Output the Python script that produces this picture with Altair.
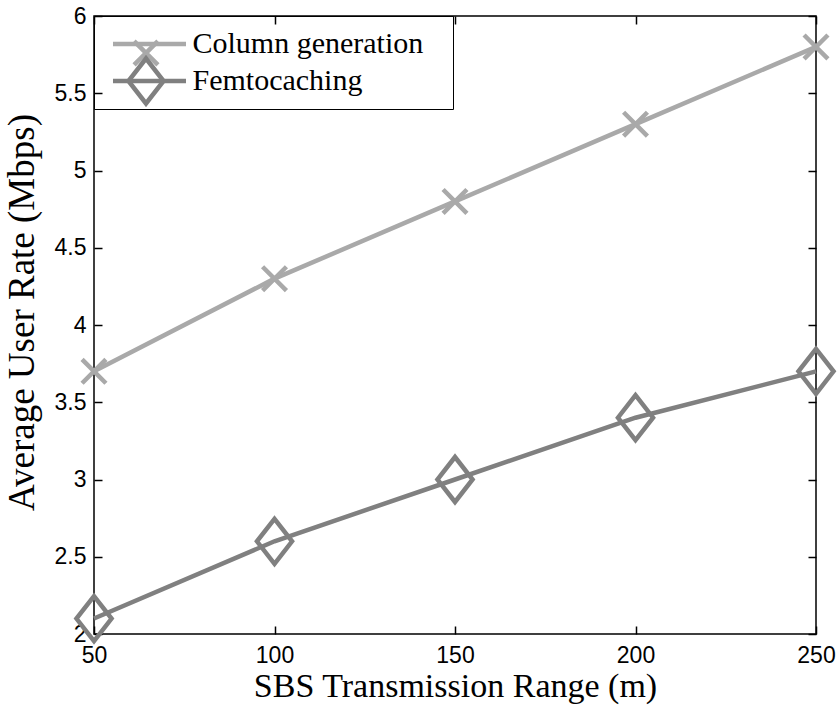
import altair as alt
import pandas as pd

# ---- data ----
x_range = [50, 100, 150, 200, 250]
column_generation = [3.7, 4.3, 4.8, 5.3, 5.8]
femtocaching = [2.1, 2.6, 3.0, 3.4, 3.7]
series_names = ["Column generation", "Femtocaching"]
marker_keys = ["x-mark", "diamond"]
x_ticks = [50, 100, 150, 200, 250]
y_ticks = [2, 2.5, 3, 3.5, 4, 4.5, 5, 5.5, 6]
series_colors = ["#a9a9a9", "#808080"]
marker_paths = [
    "M-0.53,-0.53L0.53,0.53M-0.53,0.53L0.53,-0.53",   # x-mark
    "M0,-1L0.78,0L0,1L-0.78,0Z",                       # diamond
]

rows = []
for name, key, vals in zip(series_names, marker_keys, [column_generation, femtocaching]):
    for xv, yv in zip(x_range, vals):
        rows.append({"range": xv, "rate": yv, "series": name, "marker": key})
df = pd.DataFrame(rows)

W, H = 722, 618
xscale = alt.Scale(domain=[50, 250], nice=False, zero=False)
yscale = alt.Scale(domain=[2, 6], nice=False, zero=False)

LABEL_FONT = "Liberation Sans"
TITLE_FONT = "Liberation Serif"

x_main = alt.Axis(values=x_ticks, format="d", labelFont=LABEL_FONT, labelFontSize=23,
                  labelColor="black", labelPadding=10, labelFlush=False, ticks=False,
                  domain=False, grid=False, title="SBS Transmission Range (m)",
                  titleFont=TITLE_FONT, titleFontSize=34, titleFontWeight="normal",
                  titleColor="black", titleX=361, titleY=62, titleBaseline="alphabetic",
                  titleAlign="center")
y_main = alt.Axis(values=y_ticks, format="~g", labelFont=LABEL_FONT, labelFontSize=23,
                  labelColor="black", labelPadding=8, labelFlush=False, ticks=False,
                  domain=False, grid=False, title="Average User Rate (Mbps)",
                  titleFont=TITLE_FONT, titleFontSize=37, titleFontWeight="normal",
                  titleColor="black", titleAngle=270, titleX=-61, titleY=296,
                  titleBaseline="alphabetic", titleAlign="center")

def tick_axis(orient, offset, vals):
    return alt.Axis(orient=orient, offset=offset, values=vals, labels=False, domain=False,
                    grid=False, ticks=True, tickSize=8, tickColor="black", tickWidth=1.5,
                    title=None)

legend_lines = alt.Legend(
    title=".", titleOrient="right", titleFontSize=10, titleColor="transparent",
    titlePadding=14,
    orient="none", legendX=0, legendY=0, direction="vertical",
    padding=13, symbolType="M-3.042,0H3.042", symbolSize=576, symbolStrokeWidth=4.5,
    symbolOffset=27.5, labelOffset=28, labelFont=TITLE_FONT, labelFontSize=30,
    labelColor="black", labelLimit=0, rowPadding=7, strokeColor="black",
)

def marker_legend(ly):
    return alt.Legend(
        title=None, orient="none", legendX=0, legendY=ly, direction="vertical",
        padding=0, symbolSize=2025, symbolStrokeWidth=4.5, symbolOffset=27,
        labelOffset=0, labelFont=TITLE_FONT, labelFontSize=30, labelExpr="''",
        labelLimit=0,
    )

lines = alt.Chart(df).mark_line(strokeWidth=4.5).encode(
    x=alt.X("range:Q", scale=xscale, axis=x_main),
    y=alt.Y("rate:Q", scale=yscale, axis=y_main),
    stroke=alt.Stroke("series:N", scale=alt.Scale(domain=series_names, range=series_colors),
                      legend=legend_lines),
)

def marker_layer(i, x_axis, y_axis, ly):
    leg = marker_legend(ly)
    return alt.Chart(df).transform_filter(
        alt.datum.marker == marker_keys[i]
    ).mark_point(size=2025, filled=False, strokeWidth=4.5, opacity=1).encode(
        x=alt.X("range:Q", scale=xscale, axis=x_axis),
        y=alt.Y("rate:Q", scale=yscale, axis=y_axis),
        color=alt.Color("marker:N", scale=alt.Scale(domain=[marker_keys[i]],
                                                    range=[series_colors[i]]), legend=leg),
        shape=alt.Shape("marker:N", scale=alt.Scale(domain=[marker_keys[i]],
                                                    range=[marker_paths[i]]), legend=leg),
    )

points_x = marker_layer(0, tick_axis("top", -H, x_ticks), tick_axis("right", -W, y_ticks), 12)
points_d = marker_layer(1, None, None, 40)

ghost = alt.Chart(df).mark_point(opacity=0).encode(
    x=alt.X("range:Q", scale=xscale, axis=tick_axis("bottom", -H, x_ticks)),
    y=alt.Y("rate:Q", scale=yscale, axis=tick_axis("left", -W, y_ticks)),
)

chart = (
    alt.layer(lines, points_x, points_d, ghost)
    .resolve_axis(x="independent", y="independent")
    .resolve_scale(color="independent", shape="independent")
    .properties(width=W, height=H,
                padding={"left": 94, "top": 16, "right": 23, "bottom": 72},
                autosize=alt.AutoSizeParams(type="none"))
    .configure(background="white")
    .configure_view(stroke="black", strokeWidth=1.5)
)

chart.save("out.html", embed_options={"renderer": "svg", "actions": False})
